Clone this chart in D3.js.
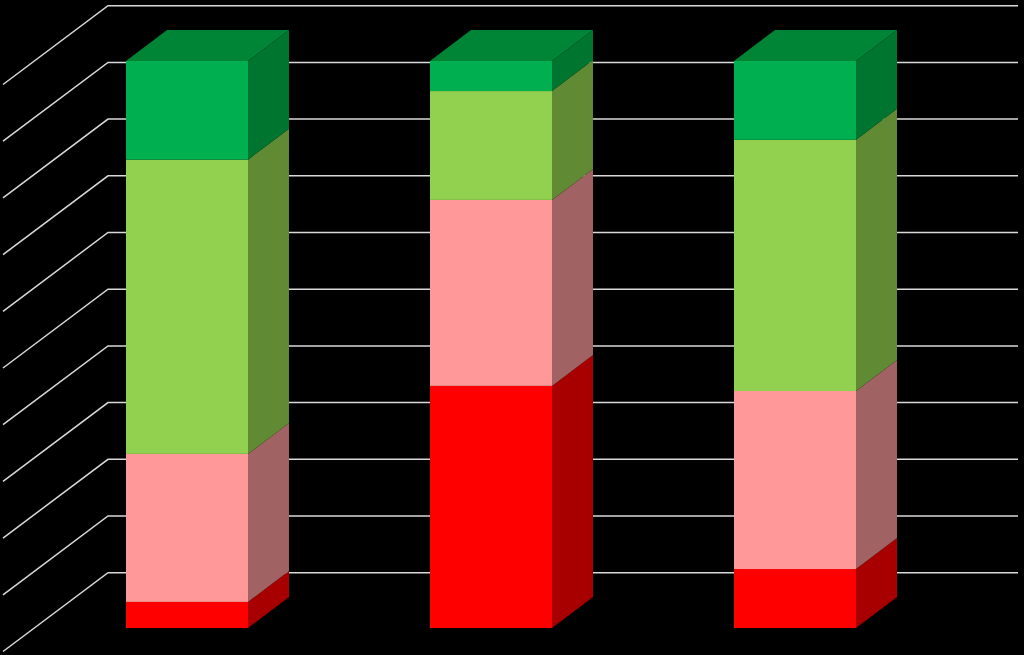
<!DOCTYPE html>
<html><head><meta charset="utf-8">
<script src="https://cdn.jsdelivr.net/npm/d3@7"></script>
<style>html,body{margin:0;padding:0;background:#000;overflow:hidden}svg{display:block}</style>
</head><body><svg id="c" width="1024" height="655"></svg>
<script>
const categories = ["1", "2", "3"];
const seriesNames = ["red", "pink", "lightGreen", "green"];
const red = [4.6, 42.7, 10.4];
const pink = [26.1, 32.8, 31.4];
const lightGreen = [51.9, 19.2, 44.3];
const green = [17.4, 5.3, 13.9];
const frontColors = ["#ff0000", "#ff9999", "#92d050", "#00b050"];
const sideColors = ["#a80000", "#a06262", "#618a35", "#007530"];
const topColor = "#008537";

const rows = categories.map((c, i) => ({category: c, red: red[i], pink: pink[i], lightGreen: lightGreen[i], green: green[i]}));
const stacked = d3.stack().keys(seriesNames)(rows);

const svg = d3.select("#c");
const y = d3.scaleLinear().domain([0, 100]).range([628, 61]);
const x = d3.scaleBand().domain(categories).range([126, 856]).paddingInner(0.5987).paddingOuter(0);
const depth = {dx: 41, dy: -31};
const grid = {frontX: 3, backX: 108, rightX: 1018, frontDy: 23.5, backDy: -55.3};

svg.append("g").selectAll("path").data(y.ticks(10)).join("path")
  .attr("d", v => d3.line()([
    [grid.frontX, y(v) + grid.frontDy],
    [grid.backX, y(v) + grid.backDy],
    [grid.rightX, y(v) + grid.backDy]
  ]))
  .attr("fill", "none").attr("stroke", "#d9d9d9").attr("stroke-width", 1.5);

const layers = svg.append("g").selectAll("g").data(stacked).join("g");

layers.selectAll("path.side").data((s, k) => s.map(d => ({d, k}))).join("path")
  .attr("class", "side")
  .attr("fill", o => sideColors[o.k])
  .attr("d", o => {
    const xr = x(o.d.data.category) + x.bandwidth();
    return d3.line()([
      [xr, y(o.d[0])], [xr, y(o.d[1])],
      [xr + depth.dx, y(o.d[1]) + depth.dy], [xr + depth.dx, y(o.d[0]) + depth.dy]
    ]) + "Z";
  });

layers.selectAll("rect").data(s => s.map(d => d)).join("rect")
  .attr("fill", function () { return frontColors[stacked.indexOf(d3.select(this.parentNode).datum())]; })
  .attr("x", d => x(d.data.category))
  .attr("width", x.bandwidth())
  .attr("y", d => y(d[1]))
  .attr("height", d => y(d[0]) - y(d[1]));

svg.append("g").selectAll("path").data(stacked[stacked.length - 1]).join("path")
  .attr("fill", topColor)
  .attr("d", d => {
    const xl = x(d.data.category), xr = xl + x.bandwidth(), yt = y(d[1]);
    return d3.line()([
      [xl, yt], [xr, yt],
      [xr + depth.dx, yt + depth.dy], [xl + depth.dx, yt + depth.dy]
    ]) + "Z";
  });
</script></body></html>
